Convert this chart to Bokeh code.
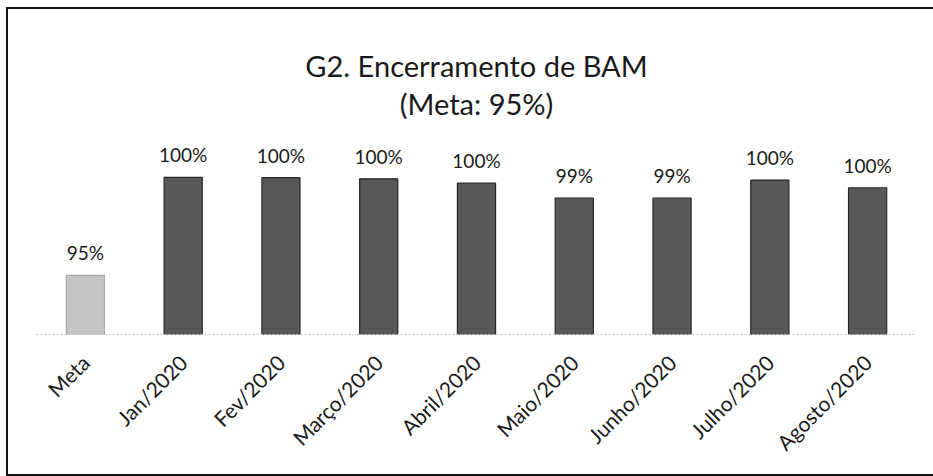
from bokeh.plotting import figure
from bokeh.models import ColumnDataSource, LabelSet, Range1d, Title
from bokeh.core.properties import value
from bokeh.embed import file_html
from bokeh.resources import INLINE
from math import pi

categories = ["Meta", "Jan/2020", "Fev/2020", "Março/2020", "Abril/2020",
              "Maio/2020", "Junho/2020", "Julho/2020", "Agosto/2020"]
values = [95.0, 99.98, 99.96, 99.9, 99.68, 98.93, 98.93, 99.84, 99.45]
labels = ["95%", "100%", "100%", "100%", "100%", "99%", "99%", "100%", "100%"]
fill_colors = ["#c4c4c4"] + ["#585858"] * 8
line_colors = ["#a8a8a8"] + ["#262626"] * 8
axis_min = 92
axis_max = 102
title_text = "G2. Encerramento de BAM"
subtitle_text = "(Meta: 95%)"

src = ColumnDataSource(dict(cat=categories, val=values, label=labels,
                            fill=fill_colors, line=line_colors))

FONT = "Lato"

p = figure(x_range=categories, y_range=Range1d(axis_min, axis_max),
           width=927, height=469, output_backend="svg", toolbar_location=None,
           title=None,
           min_border_left=28, min_border_right=19, min_border_top=128,
           min_border_bottom=144)

p.vbar(x="cat", top="val", bottom=axis_min, width=0.39, source=src,
       fill_color="fill", line_color="line", line_width=1.2)

p.add_layout(LabelSet(x="cat", y="val", text="label", source=src,
                      text_align="center", text_baseline="bottom", y_offset=11,
                      text_font=value(FONT), text_font_size="19px",
                      text_color="#1a1a1a"))

p.add_layout(Title(text=subtitle_text, align="center", text_font=FONT,
                   text_font_size="29px", text_font_style="normal",
                   text_color="#1a1a1a", standoff=34), "above")
p.add_layout(Title(text=title_text, align="center", text_font=FONT,
                   text_font_size="29px", text_font_style="normal",
                   text_color="#1a1a1a", standoff=-32), "above")

p.yaxis.visible = False
p.xgrid.grid_line_color = None
p.ygrid.grid_line_color = None
p.outline_line_color = None

ax = p.xaxis[0]
ax.major_label_orientation = pi / 4
ax.major_label_text_font = FONT
ax.major_label_text_font_size = "21px"
ax.major_label_text_color = "#1a1a1a"
ax.major_label_standoff = 18
ax.major_tick_line_color = None
ax.minor_tick_line_color = None
ax.axis_line_color = "#c8c8c8"
ax.axis_line_dash = "2 2"
ax.axis_line_width = 1

p.styles = {"margin-left": "6px", "margin-top": "7px",
            "border-left": "2px solid #111", "border-top": "2px solid #111",
            "border-bottom": "2px solid #111", "border-right": "none"}

open("out.html", "w").write(file_html(p, INLINE))
